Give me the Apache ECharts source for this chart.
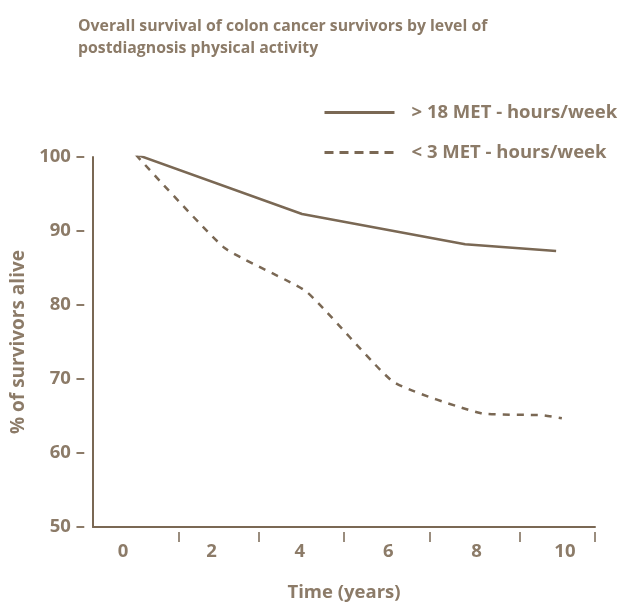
<!DOCTYPE html>
<html>
<head>
<meta charset="utf-8">
<script src="https://cdn.jsdelivr.net/npm/echarts@6/dist/echarts.min.js"></script>
<style>
  html, body { margin: 0; padding: 0; background: #fff; }
  #chart { width: 628px; height: 602px; }
</style>
</head>
<body>
<div id="chart"></div>
<script>
// values (x in years, y in % alive)
var highActivity = [[0.27, 100.4], [4.05, 92.3], [7.74, 88.2], [9.8, 87.3]]
var lowActivity = [[0.29, 100.3], [2.3, 87.7], [4.15, 81.8], [6.12, 69.6], [8.08, 65.4], [9.5, 65.1], [9.93, 64.7]]
var seriesNames = ['> 18 MET - hours/week', '< 3 MET - hours/week']
var xLabelValues = [0, 2, 4, 6, 8, 10]
var xTickValues = [1.25, 3.08, 5.0, 6.93, 8.97, 10.68]

var lineColor = '#7a6854'
var textColor = '#8c7b68'
var font = 'Open Sans'

var chart = echarts.init(document.getElementById('chart'))
chart.setOption({
  animation: false,
  title: {
    text: 'Overall survival of colon cancer survivors by level of\npostdiagnosis physical activity',
    left: 73,
    top: 10,
    textStyle: {
      color: textColor,
      fontFamily: font,
      fontWeight: 'bold',
      fontSize: 15.8,
      lineHeight: 22
    }
  },
  legend: {
    orient: 'vertical',
    left: 318,
    top: 98,
    itemWidth: 70,
    itemHeight: 14,
    itemGap: 21,
    itemStyle: { opacity: 0 },
    data: [
      { name: seriesNames[0], lineStyle: { width: 3 } },
      { name: seriesNames[1], lineStyle: { width: 3, type: [9, 6] } }
    ],
    textStyle: {
      color: textColor,
      fontFamily: font,
      fontWeight: 'bold',
      fontSize: 18.5,
      padding: [0, 0, 0, 12]
    }
  },
  grid: {
    left: 93,
    right: 33,
    top: 157,
    bottom: 75,
    outerBoundsMode: 'none'
  },
  xAxis: [{
    type: 'value',
    min: -0.68,
    max: 10.68,
    name: 'Time (years)',
    nameLocation: 'middle',
    nameGap: 56,
    nameTextStyle: { color: textColor, fontFamily: font, fontWeight: 'bold', fontSize: 18.5 },
    axisLine: { onZero: false, lineStyle: { color: lineColor, width: 2 } },
    axisTick: { show: false },
    splitLine: { show: false },
    axisLabel: {
      customValues: xLabelValues,
      margin: 15,
      color: textColor,
      fontFamily: font,
      fontWeight: 'bold',
      fontSize: 18.5
    }
  }, {
    type: 'value',
    min: -0.68,
    max: 10.68,
    position: 'bottom',
    offset: 5,
    axisLine: { show: false },
    splitLine: { show: false },
    axisLabel: { show: false },
    axisTick: {
      show: true,
      customValues: xTickValues,
      length: 10,
      lineStyle: { color: lineColor, width: 1.5 }
    }
  }],
  yAxis: {
    type: 'value',
    min: 50,
    max: 100,
    interval: 10,
    name: '% of survivors alive',
    nameLocation: 'middle',
    nameGap: 65,
    nameTextStyle: { color: textColor, fontFamily: font, fontWeight: 'bold', fontSize: 19 },
    axisLine: { show: true, onZero: false, lineStyle: { color: lineColor, width: 2 } },
    axisTick: { show: false },
    splitLine: { show: false },
    axisLabel: {
      formatter: '{value} –',
      margin: 8,
      color: textColor,
      fontFamily: font,
      fontWeight: 'bold',
      fontSize: 18.5
    }
  },
  series: [{
    name: seriesNames[0],
    type: 'line',
    data: highActivity,
    symbol: 'none',
    lineStyle: { color: lineColor, width: 2.5 },
    itemStyle: { color: lineColor }
  }, {
    name: seriesNames[1],
    type: 'line',
    data: lowActivity,
    symbol: 'none',
    smooth: 0.15,
    lineStyle: { color: lineColor, width: 2.5, type: [7, 7] },
    itemStyle: { color: lineColor }
  }]
})
</script>
</body>
</html>
